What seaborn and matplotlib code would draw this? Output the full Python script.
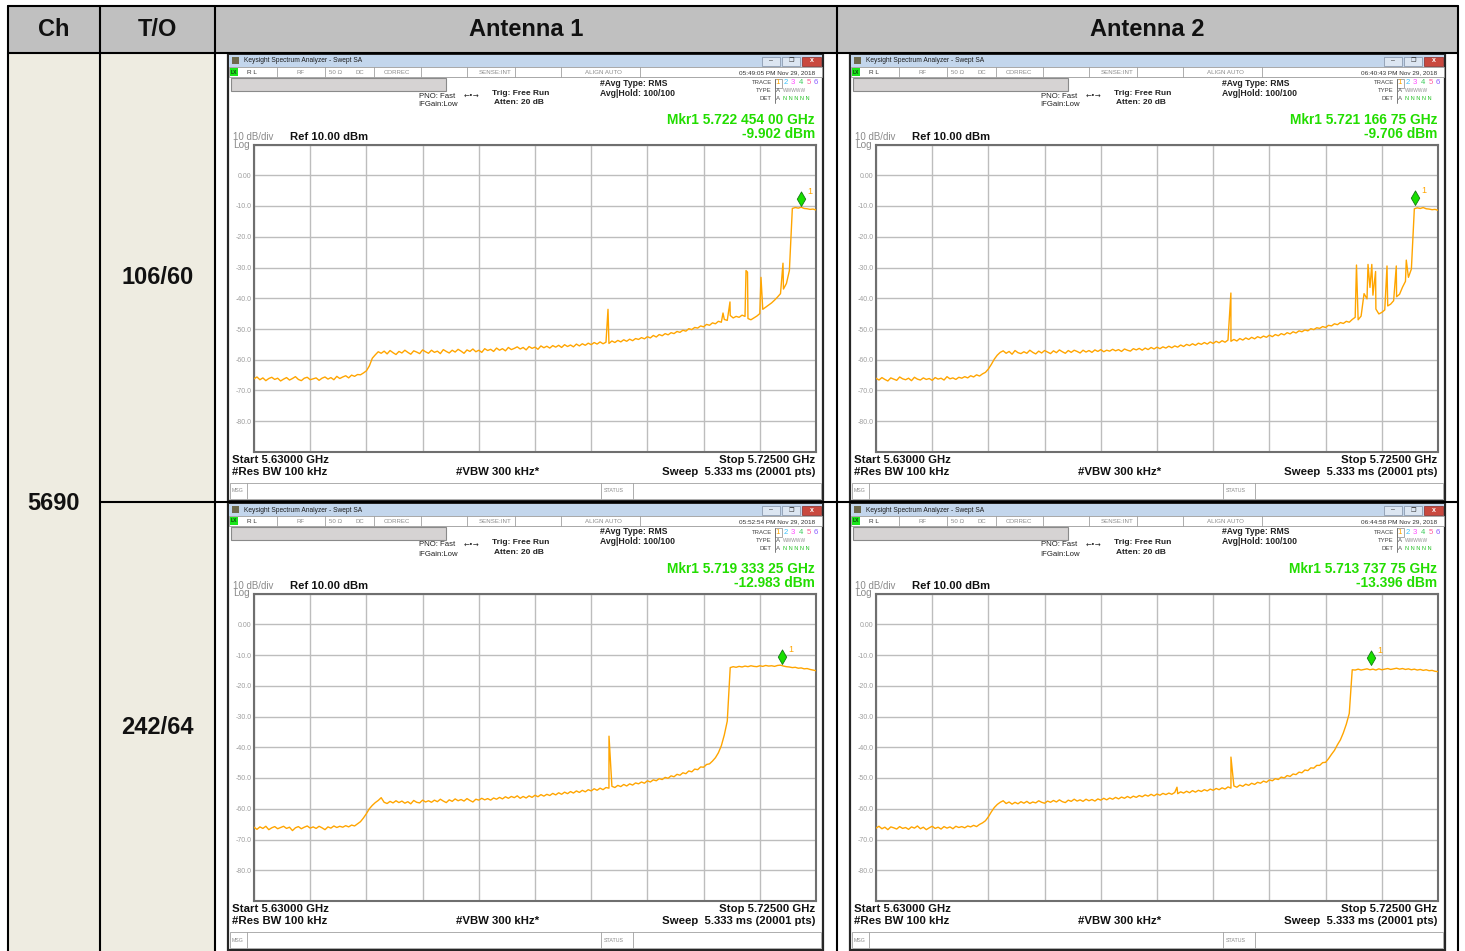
import numpy as np
import pandas as pd
import matplotlib
matplotlib.use("Agg")
import matplotlib.pyplot as plt
from matplotlib.patches import Rectangle
from matplotlib.path import Path
import seaborn as sns

sns.set_style("white")
plt.rcParams["font.family"] = ["Liberation Sans", "DejaVu Sans"]

W, H = 1465, 951

# ---------------------------------------------------------------- sweep setup
f_start, f_stop = 5.630, 5.725      # GHz
ref_level = 10.0                     # dBm, 10 dB/div, 10 divisions

channel = "5690"
throughputs = ["106/60", "242/64"]
antennas = ["Antenna 1", "Antenna 2"]

# ---------------------------------------------------------------- trace data
# RMS-averaged level (dBm), one sample per 0.5 MHz from start to stop
ant1_106 = [
    -66.2, -65.6, -66.5, -65.9, -66.8, -66.1, -65.7, -66.4, -66.0, -66.9,
    -66.3, -65.8, -66.6, -66.1, -65.5, -66.4, -66.8, -66.0, -65.7, -66.5,
    -66.2, -65.9, -66.7, -66.0, -65.6, -66.3, -65.8, -66.5, -65.4, -66.1,
    -65.6, -65.2, -65.9, -65.0, -65.4, -64.8, -64.9, -64.3, -63.6, -62.0,
    -59.5, -58.4, -57.4, -57.9, -57.2, -58.1, -57.0, -57.7, -58.3, -57.3,
    -57.8, -56.9, -57.6, -58.2, -57.1, -57.5, -58.0, -56.8, -57.4, -57.9,
    -56.9, -57.6, -57.2, -58.0, -56.7, -57.3, -57.8, -56.9, -57.5, -56.6,
    -57.2, -57.9, -56.8, -57.3, -56.5, -57.4, -56.9, -57.6, -56.4, -57.0,
    -56.6, -57.3, -56.2, -56.9, -56.4, -57.1, -56.0, -56.7, -56.3, -55.8,
    -56.5, -56.0, -56.8, -55.7, -56.3, -55.9, -56.6, -55.5, -56.1, -55.6,
    -56.2, -55.4, -55.9, -55.3, -56.0, -55.1, -55.7, -55.2, -55.8, -54.9,
    -55.5, -54.8, -55.3, -54.6, -55.1, -54.4, -54.9, -54.2, -54.8, -54.3,
    -54.7, -53.9, -54.4, -53.7, -54.2, -53.5, -54.0, -53.3, -53.8, -53.1,
    -53.4, -52.8, -53.2, -52.5, -52.9, -52.1, -52.6, -51.8, -52.2, -51.5,
    -51.9, -51.2, -51.5, -50.8, -51.1, -50.4, -50.7, -49.9, -50.2, -49.5,
    -49.7, -49.0, -49.3, -48.5, -48.8, -48.0, -48.3, -47.5, -47.8, -46.9,
    -47.2, -45.6, -46.4, -45.9, -46.2, -45.5, -45.9, -46.6, -47.0, -46.4,
    -45.8, -45.0, -43.6, -42.9, -42.2, -41.5, -40.6, -39.6, -38.5, -37.0,
    -35.2, -31.0, -10.8, -10.5, -10.7, -10.4, -10.8, -10.9, -11.1, -11.0, -11.3,
]
ant2_106 = [
    -66.0, -66.6, -65.8, -66.4, -66.9, -65.9, -66.3, -66.7, -65.6, -66.2,
    -66.5, -66.0, -66.8, -65.7, -66.3, -66.6, -65.9, -66.4, -66.1, -66.7,
    -65.8, -66.3, -66.0, -66.6, -65.5, -66.2, -65.9, -66.4, -65.7, -66.0,
    -65.5, -65.9, -65.2, -65.6, -64.9, -65.3, -64.6, -64.1, -63.0, -61.5,
    -59.8, -58.5, -57.6, -57.1, -57.9, -57.3, -58.2, -57.0, -57.7, -58.0,
    -57.4, -57.9, -56.9, -57.6, -58.1, -57.2, -57.8, -57.0, -57.5, -58.0,
    -57.1, -57.7, -56.8, -57.4, -57.9, -57.0, -57.6, -56.9, -57.3, -57.8,
    -56.9, -57.5, -57.0, -57.6, -56.8, -57.3, -56.7, -57.4, -56.9, -57.2,
    -56.6, -57.1, -56.7, -57.3, -56.5, -56.9, -57.2, -56.4, -56.8, -56.3,
    -56.9, -56.2, -56.7, -56.0, -56.5, -55.9, -56.4, -55.8, -56.2, -55.6,
    -56.1, -55.5, -55.9, -55.2, -55.7, -55.0, -55.4, -54.8, -55.3, -54.6,
    -55.0, -54.4, -54.9, -54.2, -54.7, -54.0, -54.5, -53.8, -54.3, -53.6,
    -54.0, -53.4, -53.9, -53.1, -53.6, -52.9, -53.4, -52.7, -53.2, -52.5,
    -52.9, -52.3, -52.7, -52.0, -52.5, -51.8, -52.2, -51.5, -51.9, -51.2,
    -51.6, -50.9, -51.3, -50.6, -50.9, -50.3, -50.6, -49.9, -50.2, -49.6,
    -49.8, -49.2, -49.5, -48.8, -49.0, -48.3, -48.6, -47.9, -48.2, -47.5,
    -47.8, -46.9, -46.2, -47.0, -45.8, -38.5, -40.2, -36.5, -39.0, -43.5,
    -45.1, -44.6, -43.8, -42.5, -41.9, -40.8, -39.5, -38.7, -36.4, -34.5,
    -33.2, -30.5, -10.9, -10.6, -10.8, -10.5, -10.9, -11.0, -11.2, -11.1, -11.4,
]
ant1_242 = [
    -66.0, -66.7, -65.9, -66.4, -65.7, -66.8, -66.2, -65.8, -66.5, -66.1,
    -65.7, -66.4, -66.0, -67.1, -66.2, -65.8, -66.5, -66.0, -65.6, -66.3,
    -65.9, -66.4, -65.7, -66.2, -66.8, -65.9, -66.3, -65.6, -66.1, -65.7,
    -66.0, -65.5, -65.9, -65.3, -65.6, -64.9, -64.2, -63.0, -61.6, -60.0,
    -58.9, -58.0, -57.3, -56.4, -57.9, -58.3, -57.6, -58.1, -57.4, -58.0,
    -57.5, -58.2, -57.7, -58.4, -57.3, -57.9, -58.1, -57.2, -57.8, -57.4,
    -57.9, -57.2, -57.7, -56.9, -57.5, -58.0, -57.1, -57.6, -56.8, -57.4,
    -57.0, -57.5, -56.7, -57.3, -57.8, -56.9, -57.2, -56.6, -57.1, -56.7,
    -57.2, -56.5, -56.9, -56.3, -56.8, -56.1, -56.6, -56.0, -56.4, -55.8,
    -56.6, -56.0, -56.5, -55.8, -56.3, -55.6, -56.1, -55.4, -55.9, -55.3,
    -55.7, -55.0, -55.5, -54.8, -55.3, -54.6, -55.1, -54.4, -54.9, -54.2,
    -54.7, -54.0, -54.5, -53.8, -54.2, -53.5, -54.0, -53.3, -53.8, -53.1,
    -53.3, -52.7, -53.1, -52.4, -52.8, -52.1, -52.6, -51.9, -52.3, -51.6,
    -51.9, -51.3, -51.7, -50.9, -51.3, -50.6, -50.9, -50.2, -50.5, -49.8,
    -50.1, -49.3, -49.6, -48.8, -49.1, -48.3, -48.6, -47.7, -48.0, -47.1,
    -47.3, -46.4, -46.5, -45.6, -45.4, -44.5, -43.4, -41.8, -39.5, -36.0,
    -31.5, -14.1, -13.8, -14.0, -13.7, -13.9, -13.6, -13.8, -13.5, -13.7,
    -13.8, -13.5, -13.7, -13.4, -13.6, -13.5, -13.7, -13.4, -13.3, -13.6,
    -13.8, -13.9, -14.1, -14.0, -14.3, -14.2, -14.5, -14.4, -14.7, -14.9, -15.1,
]
ant2_242 = [
    -66.3, -65.7, -66.5, -66.0, -66.8, -65.9, -66.2, -66.6, -65.8, -66.4,
    -66.1, -66.7, -65.9, -66.3, -65.6, -66.5, -66.0, -66.8, -66.2, -65.7,
    -66.4, -66.0, -66.6, -65.8, -66.3, -65.9, -66.5, -65.7, -66.1, -65.8,
    -66.2, -65.6, -65.9, -65.4, -65.8, -65.1, -64.6, -63.9, -62.6, -61.0,
    -59.6, -58.6, -57.9, -57.4, -58.3, -57.8, -58.5, -57.9, -58.4, -57.7,
    -58.2, -57.6, -58.3, -57.8, -58.1, -57.4, -57.9, -58.2, -57.5, -57.9,
    -57.3, -57.8, -57.1, -57.7, -58.0, -57.2, -57.6, -56.9, -57.5, -57.1,
    -57.6, -56.9, -57.4, -57.0, -57.5, -56.8, -57.2, -56.6, -57.1, -56.5,
    -56.9, -56.3, -56.8, -56.2, -56.6, -56.0, -56.5, -55.9, -56.3, -55.7,
    -56.1, -55.5, -55.9, -55.3, -55.8, -55.2, -55.6, -55.0, -55.4, -54.9,
    -55.3, -54.7, -55.1, -54.5, -54.9, -54.3, -54.8, -54.1, -54.6, -54.0,
    -54.4, -53.8, -54.2, -53.6, -54.0, -53.4, -53.8, -53.2, -53.6, -52.9,
    -53.3, -52.6, -53.0, -52.3, -52.7, -52.0, -52.4, -51.7, -52.1, -51.4,
    -51.7, -51.0, -51.4, -50.6, -50.9, -50.2, -50.5, -49.7, -50.0, -49.2,
    -49.5, -48.7, -48.9, -48.1, -48.3, -47.4, -47.6, -46.7, -46.8, -45.9,
    -45.9, -45.0, -44.9, -43.7, -42.3, -41.0, -39.2, -37.6, -35.3, -32.5,
    -29.0, -14.8, -14.9, -14.6, -14.9, -14.7, -14.5, -14.8, -14.6, -14.9,
    -14.5, -14.8, -14.6, -14.4, -14.7, -14.5, -14.3, -14.6, -14.4, -14.7,
    -14.5, -14.8, -14.6, -14.9, -14.7, -15.0, -14.8, -15.1, -15.0, -15.3, -15.4,
]

# narrow spurs between samples: frequency (GHz) and peak level (dBm)
ant1_106_spur_f = [5.68984, 5.70928, 5.71046, 5.71317, 5.71342, 5.71570, 5.71942]
ant1_106_spur_db = [-43.6, -44.8, -41.2, -31.0, -31.5, -33.2, -28.6]
ant2_106_spur_f = [5.68999, 5.71122, 5.71317, 5.71381, 5.71445, 5.71638, 5.71795, 5.71964]
ant2_106_spur_db = [-38.3, -29.2, -29.0, -29.0, -31.3, -29.5, -29.5, -27.6]
ant1_242_spur_f = [5.69001]
ant1_242_spur_db = [-36.4]
ant2_242_spur_f = [5.68088, 5.69000]
ant2_242_spur_db = [-53.0, -43.2]

# marker 1 readouts (GHz, dBm)
ant1_106_mkr = (5.72245400, -9.902)
ant2_106_mkr = (5.72116675, -9.706)
ant1_242_mkr = (5.71933325, -12.983)
ant2_242_mkr = (5.71373775, -13.396)

# capture time stamps
ant1_106_time = "05:49:05 PM Nov 29, 2018"
ant2_106_time = "06:40:43 PM Nov 29, 2018"
ant1_242_time = "05:52:54 PM Nov 29, 2018"
ant2_242_time = "06:44:58 PM Nov 29, 2018"

# ---------------------------------------------------------------- styling
TRACE = "#ffa500"
MKR_GREEN = "#18e000"
TEXT_GREEN = "#22dd00"
GRID = "#bdbdbd"
DIM = "#8c8c8c"

fig = plt.figure(figsize=(W / 100, H / 100), dpi=100)
bg = fig.add_axes([0, 0, 1, 1])
bg.set_xlim(0, W)
bg.set_ylim(H, 0)
bg.axis("off")


def px_rect(x0, y0, x1, y1):
    return [x0 / W, 1 - y1 / H, (x1 - x0) / W, (y1 - y0) / H]


def mkr_label(freq):
    s = f"{freq:.8f}"
    return f"Mkr1 {s[:5]} {s[5:8]} {s[8:10]} GHz"


diamond = Path([(0, 0), (0.29, 0.5), (0, 1), (-0.29, 0.5), (0, 0)],
               [Path.MOVETO, Path.LINETO, Path.LINETO, Path.LINETO, Path.CLOSEPOLY])


def draw_window(ox, oy, stamp, levels, spur_f, spur_db, mkr):
    def txt(x, y, s, size=5, color="#222222", weight="normal", ha="left", **kw):
        bg.text(ox + x, oy + y, s, fontsize=size, color=color, fontweight=weight,
                ha=ha, va="center", **kw)

    def rect(x, y, w, h, fc, ec="none", lw=0.6, z=1):
        bg.add_patch(Rectangle((ox + x, oy + y), w, h, fc=fc, ec=ec, lw=lw, zorder=z))

    def vline(x, y0, y1, color="#a0a0a0", lw=0.6):
        bg.plot([ox + x, ox + x], [oy + y0, oy + y1], color=color, lw=lw, zorder=2)

    # frame and title bar
    rect(0, 0, 595, 447, "white", "#262626", 1.6)
    rect(1, 1, 593, 12, "#c3d6ec")
    rect(4, 3, 7, 7, "#6e6a4c")
    txt(16, 7, "Keysight Spectrum Analyzer - Swept SA", size=4.8, color="#1c1c1c")
    rect(534, 2.5, 18, 9, "#dce6f2", "#7f8ea3", 0.5)
    rect(554, 2.5, 18, 9, "#dce6f2", "#7f8ea3", 0.5)
    rect(574, 2.5, 19, 9, "#c9493f", "#8a2a24", 0.5)
    txt(543, 7, "–", size=5, color="#333333", ha="center")
    txt(563, 7, "❐", size=4.5, color="#333333", ha="center", family=["DejaVu Sans"])
    txt(583.5, 7, "x", size=5, color="white", weight="bold", ha="center")

    # settings line
    rect(1, 13, 593, 10, "white", "#9a9a9a", 0.6)
    rect(2, 14, 8, 8, "#19e619")
    txt(6, 18, "LX", size=3.6, color="#0d3d0d", weight="bold", ha="center")
    for x in [49, 97, 146, 193, 239, 287, 333, 412]:
        vline(x, 13, 23)
    txt(19, 18.5, "R L", size=4.6, color="#333333")
    txt(73, 18.5, "RF", size=4.4, color=DIM, ha="center")
    txt(108, 18.5, "50 Ω", size=4.4, color=DIM, ha="center")
    txt(132, 18.5, "DC", size=4.4, color=DIM, ha="center")
    txt(169, 18.5, "CORREC", size=4.4, color=DIM, ha="center")
    txt(267, 18.5, "SENSE:INT", size=4.4, color=DIM, ha="center")
    txt(375, 18.5, "ALIGN AUTO", size=4.4, color=DIM, ha="center")
    txt(587, 18.5, stamp, size=4.6, color="#333333", ha="right")

    # annotation panel
    rect(3, 24, 215, 13, "#d6d3d3", "#8a8a8a", 0.8)
    txt(227, 42, "PNO: Fast", size=5.6, ha="right")
    txt(230, 51, "IFGain:Low", size=5.6, ha="right")
    txt(236, 42, "←•→", size=5, family=["DejaVu Sans"])
    txt(264, 39.5, "Trig: Free Run", size=6, weight="bold")
    txt(266, 49, "Atten: 20 dB", size=6, weight="bold")
    txt(372, 29, "#Avg Type: RMS", size=6.2, weight="bold")
    txt(372, 39, "Avg|Hold: 100/100", size=6.2, weight="bold")
    txt(544, 29, "TRACE", size=4.3, color="#444444", ha="right")
    txt(544, 37, "TYPE", size=4.3, color="#444444", ha="right")
    txt(544, 45, "DET", size=4.3, color="#444444", ha="right")
    vline(546.5, 25, 49, color="#666666", lw=0.6)
    for k, c in enumerate(["#ffa500", "#38c4ff", "#ff4cff", "#3ccc5c", "#ff5a9a", "#8a5cff"]):
        txt(550 + k * 7.6, 29, str(k + 1), size=5.6, color=c, ha="center")
    rect(546.5, 24.5, 7, 9, "none", "#888888", 0.5)
    txt(548, 37, "A", size=4.4, color="#555555")
    txt(555, 37, "WWWWW", size=3.5, color="#909090")
    txt(548, 45, "A", size=4.4, color="#555555")
    txt(555, 45, "N N N N N", size=4.0, color="#20c020")

    # marker readout
    mf, mdb = mkr
    txt(587, 66, mkr_label(mf), size=9.9, color=TEXT_GREEN, weight="bold", ha="right")
    txt(587, 80, f"{mdb:.3f} dBm", size=9.9, color=TEXT_GREEN, weight="bold", ha="right")

    txt(5, 83, "10 dB/div", size=7.0, color="#8a8a8a")
    txt(5, 90.5, "Log", size=7.2, color="#8a8a8a")
    txt(62, 83, f"Ref {ref_level:.2f} dBm", size=8.1, weight="bold", color="#111111")

    # sweep footer
    txt(4, 406, f"Start {f_start:.5f} GHz", size=8.2, weight="bold", color="#111111")
    txt(4, 418, "#Res BW 100 kHz", size=8.2, weight="bold", color="#111111")
    txt(228, 418, "#VBW 300 kHz*", size=8.2, weight="bold", color="#111111")
    txt(587, 406, f"Stop {f_stop:.5f} GHz", size=8.2, weight="bold", color="#111111", ha="right")
    txt(587, 418, "Sweep  5.333 ms (20001 pts)", size=8.2, weight="bold", color="#111111", ha="right")
    rect(2, 429, 591, 16, "white", "#a0a0a0", 0.6)
    vline(19, 429, 445)
    vline(373, 429, 445)
    vline(405, 429, 445)
    txt(3.5, 437, "MSG", size=3.8, color="#8a8a8a")
    txt(376, 437, "STATUS", size=3.8, color="#8a8a8a")

    # spectrum display
    ax = fig.add_axes(px_rect(ox + 26, oy + 90.5, ox + 588, oy + 398))
    freq = np.linspace(f_start, f_stop, len(levels))
    x = np.concatenate([freq, spur_f])
    y = np.concatenate([levels, spur_db])
    order = np.argsort(x, kind="stable")
    df = pd.DataFrame({"freq": x[order], "level": y[order]})
    sns.lineplot(data=df, x="freq", y="level", ax=ax, color=TRACE, linewidth=1.0,
                 estimator=None, sort=False, zorder=3)
    ax.plot([mf], [mdb], marker=diamond, markersize=21, color=MKR_GREEN,
            markeredgecolor="#127a12", markeredgewidth=0.6, linestyle="none", zorder=5,
            clip_on=False)
    ax.annotate("1", xy=(mf, mdb), xytext=(4.5, 10.5), textcoords="offset points",
                fontsize=6.5, color=TRACE, va="center", ha="left")

    ax.set_xlim(f_start, f_stop)
    ax.set_ylim(ref_level - 100, ref_level)
    ax.set_xticks(np.linspace(f_start, f_stop, 11))
    ax.set_xticklabels([])
    yt = np.arange(ref_level - 100, ref_level + 1, 10)
    ax.set_yticks(yt)
    ax.set_yticklabels(["" if v in (ref_level, ref_level - 100) else ("0.00" if v == 0 else f"{v:.1f}")
                        for v in yt])
    ax.tick_params(axis="both", length=0, pad=1.6, labelsize=5, labelcolor="#9e9e9e")
    ax.grid(True, color=GRID, linewidth=1.0)
    ax.set_axisbelow(True)
    ax.set_xlabel("")
    ax.set_ylabel("")
    ax.set_facecolor("white")
    for sp in ax.spines.values():
        sp.set_visible(True)
        sp.set_color("#6f6f6f")
        sp.set_linewidth(1.5)


# ---------------------------------------------------------------- table
col_x = [8, 100, 215, 837, 1458]
head_top, head_bot, row_split, tab_bot = 6, 53, 501.5, 960

bg.add_patch(Rectangle((col_x[0], head_top), col_x[-1] - col_x[0], head_bot - head_top,
                       fc="#c0c0c0", ec="none", zorder=0))
bg.add_patch(Rectangle((col_x[0], head_bot), col_x[2] - col_x[0], tab_bot - head_bot,
                       fc="#eeece1", ec="none", zorder=0))

panels = [
    (228, 54, ant1_106_time, ant1_106, ant1_106_spur_f, ant1_106_spur_db, ant1_106_mkr),
    (850, 54, ant2_106_time, ant2_106, ant2_106_spur_f, ant2_106_spur_db, ant2_106_mkr),
    (228, 503, ant1_242_time, ant1_242, ant1_242_spur_f, ant1_242_spur_db, ant1_242_mkr),
    (850, 503, ant2_242_time, ant2_242, ant2_242_spur_f, ant2_242_spur_db, ant2_242_mkr),
]
for p in panels:
    draw_window(*p)

LW = 1.5
for x in col_x:
    bg.plot([x, x], [head_top, tab_bot], color="black", lw=LW, zorder=10)
bg.plot([col_x[0], col_x[-1]], [head_top, head_top], color="black", lw=LW, zorder=10)
bg.plot([col_x[0], col_x[-1]], [head_bot, head_bot], color="black", lw=LW, zorder=10)
bg.plot([col_x[1], col_x[-1]], [row_split, row_split], color="black", lw=LW, zorder=10)

head_kw = dict(fontsize=17, fontweight="bold", ha="center", va="center", color="#111111", zorder=11)
bg.text((col_x[0] + col_x[1]) / 2, 30, "Ch", **head_kw)
bg.text((col_x[1] + col_x[2]) / 2, 30, "T/O", **head_kw)
bg.text((col_x[2] + col_x[3]) / 2, 30, antennas[0], **head_kw)
bg.text((col_x[3] + col_x[4]) / 2, 30, antennas[1], **head_kw)
bg.text((col_x[0] + col_x[1]) / 2, 503, channel, **head_kw)
bg.text((col_x[1] + col_x[2]) / 2, 278, throughputs[0], **head_kw)
bg.text((col_x[1] + col_x[2]) / 2, 727, throughputs[1], **head_kw)

fig.savefig("out.png", dpi=100)
